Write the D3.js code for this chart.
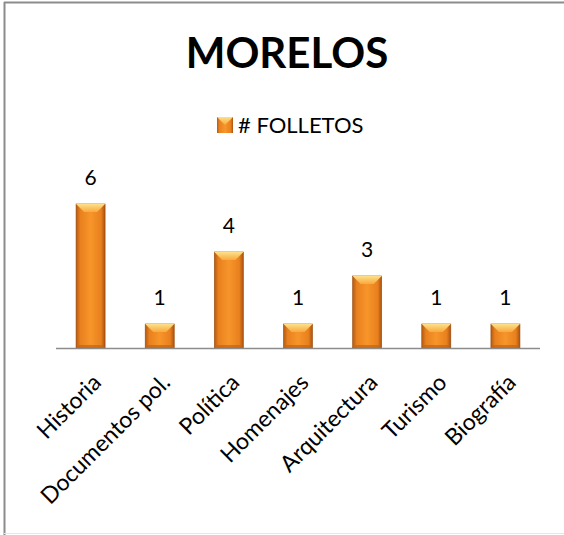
<!DOCTYPE html>
<html>
<head>
<meta charset="utf-8">
<script src="https://cdn.jsdelivr.net/npm/d3@7"></script>
<style>
  body { margin: 0; background: #fff; }
  text { font-family: Lato, "Open Sans", sans-serif; }
</style>
</head>
<body>
<div id="container"></div>
<script>
const WIDTH = 564;
const HEIGHT = 535;

const title = 'MORELOS';
const seriesName = '# FOLLETOS';
const categories = ['Historia', 'Documentos pol.', 'Política', 'Homenajes', 'Arquitectura', 'Turismo', 'Biografía'];
const folletos = [6, 1, 4, 1, 3, 1, 1];

const svg = d3.select('#container')
    .append('svg')
    .attr('width', WIDTH)
    .attr('height', HEIGHT);

// gradients for the bevelled bars
const defs = svg.append('defs');
const body = defs.append('linearGradient').attr('id', 'barBody')
    .attr('x1', 0).attr('x2', 1).attr('y1', 0).attr('y2', 0);
body.append('stop').attr('offset', '0%').attr('stop-color', '#b35a12');
body.append('stop').attr('offset', '14%').attr('stop-color', '#e8801e');
body.append('stop').attr('offset', '50%').attr('stop-color', '#f7952a');
body.append('stop').attr('offset', '86%').attr('stop-color', '#e8801e');
body.append('stop').attr('offset', '100%').attr('stop-color', '#a95210');

const topGrad = defs.append('linearGradient').attr('id', 'barTop')
    .attr('x1', 0).attr('x2', 0).attr('y1', 0).attr('y2', 1);
topGrad.append('stop').attr('offset', '0%').attr('stop-color', '#fde08a');
topGrad.append('stop').attr('offset', '100%').attr('stop-color', '#f8a93c');

// frame
svg.append('line').attr('x1', 4.5).attr('x2', 4.5).attr('y1', 2).attr('y2', HEIGHT)
    .attr('stroke', '#8c8c8c').attr('stroke-width', 2);
svg.append('line').attr('x1', 4).attr('x2', WIDTH).attr('y1', 2.5).attr('y2', 2.5)
    .attr('stroke', '#8c8c8c').attr('stroke-width', 2);
svg.append('line').attr('x1', 4).attr('x2', WIDTH).attr('y1', 533.5).attr('y2', 533.5)
    .attr('stroke', '#e6e6e6').attr('stroke-width', 1);

const x = d3.scaleBand()
    .domain(categories)
    .range([56, 540])
    .paddingInner(0.58)
    .paddingOuter(0.29);

const y = d3.scaleLinear()
    .domain([0, 6])
    .range([348, 204]);

// title
svg.append('text')
    .attr('x', 287).attr('y', 68)
    .attr('text-anchor', 'middle')
    .attr('font-size', 42).attr('font-weight', 'bold')
    .attr('fill', '#000')
    .text(title);

// legend
const legend = svg.append('g').attr('transform', 'translate(217,117)');
legend.append('rect').attr('width', 16).attr('height', 16).attr('fill', 'url(#barBody)');
legend.append('polygon').attr('points', '0,0 16,0 8,8').attr('fill', 'url(#barTop)');
legend.append('text').attr('x', 21).attr('y', 16)
    .attr('font-size', 22).attr('fill', '#000').text(seriesName);

// bars
const bars = svg.append('g').selectAll('g')
    .data(categories.map((c, i) => ({ cat: c, value: folletos[i] })))
    .join('g')
    .attr('transform', d => `translate(${x(d.cat)},${y(d.value)})`);

const bw = x.bandwidth();
const bevel = 8;

bars.append('rect')
    .attr('width', bw)
    .attr('height', d => y(0) - y(d.value))
    .attr('fill', 'url(#barBody)')
    .attr('stroke', '#9a4a0c').attr('stroke-width', 0.6);

bars.append('polygon')
    .attr('points', `0,0 ${bw},0 ${bw - bevel},${bevel} ${bevel},${bevel}`)
    .attr('fill', 'url(#barTop)');

bars.append('polygon')
    .attr('points', d => {
        const h = y(0) - y(d.value);
        return `0,${h} ${bw},${h} ${bw - 3},${h - 3} 3,${h - 3}`;
    })
    .attr('fill', '#c26416').attr('opacity', 0.7);

// data labels
bars.append('text')
    .attr('x', bw / 2).attr('y', -19)
    .attr('text-anchor', 'middle')
    .attr('font-size', 21).attr('fill', '#000')
    .text(d => d.value);

// axis
const axis = svg.append('g')
    .attr('transform', `translate(0,${y(0)})`)
    .call(d3.axisBottom(x).tickSize(0).tickPadding(0));
axis.select('.domain')
    .attr('d', 'M56,0.5H540')
    .attr('stroke', '#8c8c8c').attr('stroke-width', 1.5);
axis.selectAll('.tick text')
    .attr('font-size', 23)
    .attr('fill', '#000')
    .attr('text-anchor', 'end')
    .attr('dy', 0)
    .attr('transform', 'translate(12,36) rotate(-45)');
</script>
</body>
</html>
